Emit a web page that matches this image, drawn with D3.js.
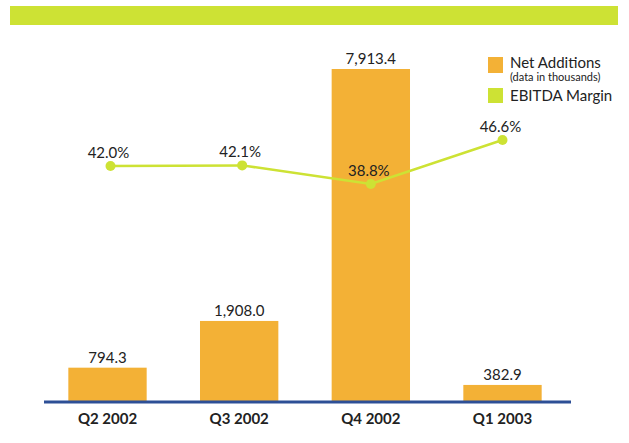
<!DOCTYPE html>
<html>
<head>
<meta charset="utf-8">
<script src="https://cdn.jsdelivr.net/npm/d3@7"></script>
<style>
  body { margin: 0; background: #fff; }
  text { font-family: Lato, 'Open Sans', sans-serif; fill: #222; }
</style>
</head>
<body>
<div id="chart"></div>
<script>
// chart data
var quarters = ['Q2 2002', 'Q3 2002', 'Q4 2002', 'Q1 2003'];
var netAdditions = [794.3, 1908.0, 7913.4, 382.9];
var ebitdaMargin = [42.0, 42.1, 38.8, 46.6];
var barLabels = ['794.3', '1,908.0', '7,913.4', '382.9'];
var marginLabels = ['42.0%', '42.1%', '38.8%', '46.6%'];

var width = 629, height = 443;
var orange = '#f3b136', green = '#cde234', axisBlue = '#2d4f96';

var svg = d3.select('#chart').append('svg')
    .attr('width', width)
    .attr('height', height);

// top banner
svg.append('rect')
    .attr('x', 10).attr('y', 6)
    .attr('width', 608).attr('height', 19)
    .attr('fill', green);

// set the ranges
var x = d3.scaleBand().domain(quarters).range([42, 568]).paddingInner(0.405).paddingOuter(0.2);
var y = d3.scaleLinear().domain([0, 7913.4]).range([401, 69]);
var y2 = d3.scaleLinear().domain([38.8, 46.6]).range([184, 140]);

// bars
svg.selectAll('rect.bar')
    .data(netAdditions)
  .enter().append('rect')
    .attr('class', 'bar')
    .attr('x', function(d, i) { return x(quarters[i]); })
    .attr('width', x.bandwidth())
    .attr('y', function(d) { return y(d); })
    .attr('height', function(d) { return y(0) - y(d); })
    .attr('fill', orange);

// bar value labels
svg.selectAll('text.value')
    .data(netAdditions)
  .enter().append('text')
    .attr('class', 'value')
    .text(function(d, i) { return barLabels[i]; })
    .attr('x', function(d, i) { return x(quarters[i]) + x.bandwidth() / 2; })
    .attr('y', function(d) { return y(d) - 5; })
    .attr('font-size', '15px')
    .attr('text-anchor', 'middle');

// x axis
var xAxis = d3.axisBottom(x).tickSize(0).tickPadding(11);
var gx = svg.append('g')
    .attr('transform', 'translate(0,' + 402 + ')')
    .call(xAxis);
gx.select('.domain').remove();
gx.selectAll('text')
    .attr('font-size', '15px')
    .attr('font-weight', 'bold')
    .style('fill', '#222');
svg.append('line')
    .attr('x1', 44).attr('x2', 571)
    .attr('y1', 402).attr('y2', 402)
    .attr('stroke', axisBlue)
    .attr('stroke-width', 3);

// ebitda margin line
var cx = function(i) { return x(quarters[i]) + x.bandwidth() / 2 + (i < 2 ? 3 : 0); };
var line = d3.line()
    .x(function(d, i) { return cx(i); })
    .y(function(d) { return y2(d); });

svg.append('path')
    .datum(ebitdaMargin)
    .attr('d', line)
    .attr('fill', 'none')
    .attr('stroke', green)
    .attr('stroke-width', 2.5);

svg.selectAll('circle.pt')
    .data(ebitdaMargin)
  .enter().append('circle')
    .attr('class', 'pt')
    .attr('cx', function(d, i) { return cx(i); })
    .attr('cy', function(d) { return y2(d); })
    .attr('r', 5)
    .attr('fill', green);

svg.selectAll('text.margin')
    .data(ebitdaMargin)
  .enter().append('text')
    .attr('class', 'margin')
    .text(function(d, i) { return marginLabels[i]; })
    .attr('x', function(d, i) { return cx(i) - 2; })
    .attr('y', function(d) { return y2(d) - 8; })
    .attr('font-size', '15px')
    .attr('text-anchor', 'middle');

// legend
var legend = svg.append('g').attr('transform', 'translate(488,57)');
legend.append('rect').attr('width', 15).attr('height', 16).attr('fill', orange);
legend.append('text').attr('x', 22).attr('y', 11).attr('font-size', '15px').text('Net Additions');
legend.append('text').attr('x', 22).attr('y', 24).attr('font-size', '11px').text('(data in thousands)');
legend.append('rect').attr('y', 31).attr('width', 15).attr('height', 15).attr('fill', green);
legend.append('text').attr('x', 22).attr('y', 44).attr('font-size', '15px').text('EBITDA Margin');
</script>
</body>
</html>
